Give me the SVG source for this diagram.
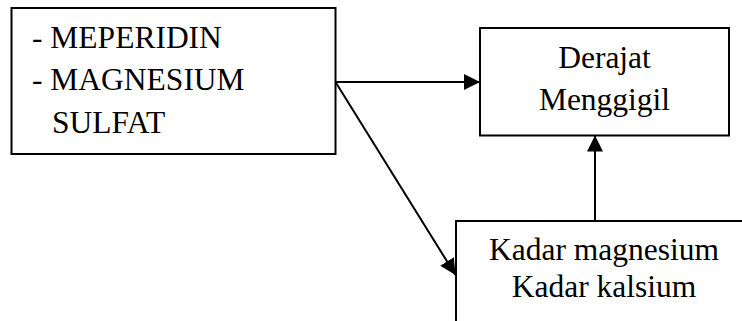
<svg xmlns="http://www.w3.org/2000/svg" width="742" height="321" viewBox="0 0 742 321" font-family="Liberation Serif, serif">
<style>
.box{fill:#fff;stroke:#000;stroke-width:2}
.t{font-size:31.5px;fill:#000}
.c{text-anchor:middle}
.ln{stroke:#000;stroke-width:2;fill:none}
</style>
<defs>
<marker id="ah" viewBox="0 0 16 16" refX="16" refY="8" markerWidth="16" markerHeight="16" markerUnits="userSpaceOnUse" orient="auto">
<path d="M0,0 L16,8 L0,16 z" fill="#000"/>
</marker>
</defs>
<rect width="742" height="321" fill="#fff"/>
<g id="node-obat">
<rect class="box" x="11.5" y="8" width="324" height="146"/>
<text class="t" font-family="Liberation Serif" x="32" y="48">- MEPERIDIN</text>
<text class="t" font-family="Liberation Serif" x="32" y="90">- MAGNESIUM</text>
<text class="t" font-family="Liberation Serif" x="52" y="133">SULFAT</text>
</g>
<g id="node-derajat">
<rect class="box" x="480" y="28" width="249" height="107.5"/>
<text class="t c" font-family="Liberation Serif" x="604.5" y="68">Derajat</text>
<text class="t c" font-family="Liberation Serif" x="604.5" y="110">Menggigil</text>
</g>
<g id="node-kadar">
<rect class="box" x="456" y="221" width="320" height="130"/>
<text class="t c" font-family="Liberation Serif" x="604" y="260">Kadar magnesium</text>
<text class="t c" font-family="Liberation Serif" x="604" y="297">Kadar kalsium</text>
</g>
<g id="connectors">
<line class="ln" x1="335.5" y1="82" x2="480" y2="82" marker-end="url(#ah)"/>
<line class="ln" x1="335.5" y1="82" x2="455.5" y2="275" marker-end="url(#ah)"/>
<line class="ln" x1="595" y1="221" x2="595" y2="135.5" marker-end="url(#ah)"/>
</g>
</svg>
